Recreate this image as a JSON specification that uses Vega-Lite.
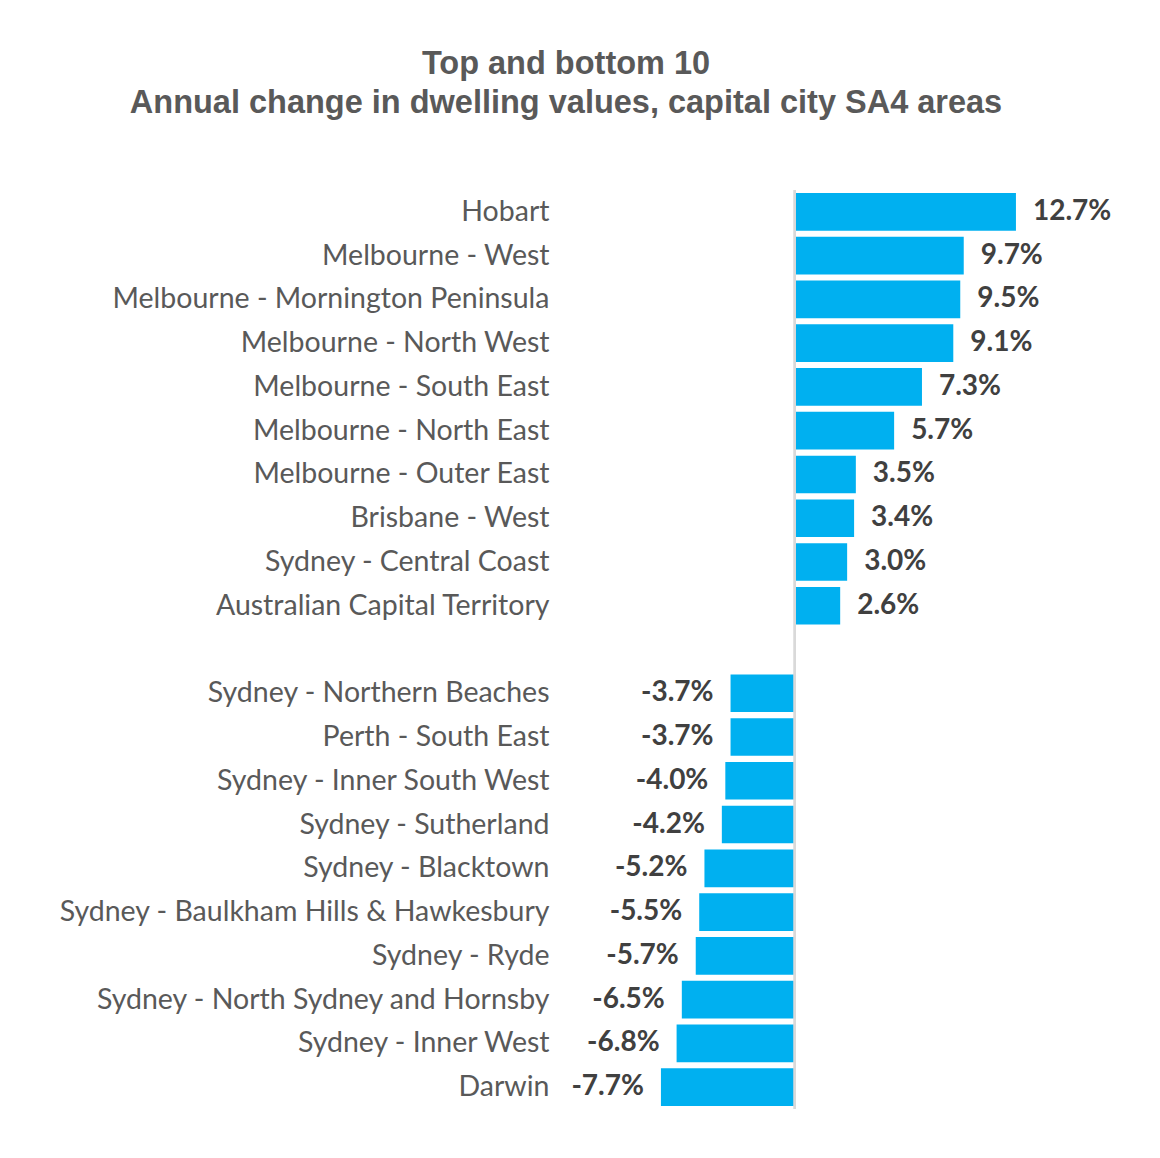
{
  "$schema": "https://vega.github.io/schema/vega-lite/v6.json",
  "autosize": "none",
  "width": 540,
  "height": 919,
  "padding": {"left": 560, "top": 190, "right": 60, "bottom": 49},
  "background": "white",
  "title": {
    "text": ["Top and bottom 10", "Annual change in dwelling values, capital city SA4 areas"],
    "anchor": "middle",
    "dx": -264,
    "offset": 70,
    "font": "Liberation Sans",
    "fontSize": 32.5,
    "fontWeight": "bold",
    "color": "#595959",
    "lineHeight": 39
  },
  "data": {
    "values": [
      {"area": "Hobart", "change": 0.127},
      {"area": "Melbourne - West", "change": 0.097},
      {"area": "Melbourne - Mornington Peninsula", "change": 0.095},
      {"area": "Melbourne - North West", "change": 0.091},
      {"area": "Melbourne - South East", "change": 0.073},
      {"area": "Melbourne - North East", "change": 0.057},
      {"area": "Melbourne - Outer East", "change": 0.035},
      {"area": "Brisbane - West", "change": 0.034},
      {"area": "Sydney - Central Coast", "change": 0.030},
      {"area": "Australian Capital Territory", "change": 0.026},
      {"area": "Sydney - Northern Beaches", "change": -0.037},
      {"area": "Perth - South East", "change": -0.037},
      {"area": "Sydney - Inner South West", "change": -0.040},
      {"area": "Sydney - Sutherland", "change": -0.042},
      {"area": "Sydney - Blacktown", "change": -0.052},
      {"area": "Sydney - Baulkham Hills & Hawkesbury", "change": -0.055},
      {"area": "Sydney - Ryde", "change": -0.057},
      {"area": "Sydney - North Sydney and Hornsby", "change": -0.065},
      {"area": "Sydney - Inner West", "change": -0.068},
      {"area": "Darwin", "change": -0.077}
    ]
  },
  "encoding": {
    "y": {
      "field": "area",
      "type": "nominal",
      "title": null,
      "scale": {
        "domain": ["Hobart", "Melbourne - West", "Melbourne - Mornington Peninsula", "Melbourne - North West", "Melbourne - South East", "Melbourne - North East", "Melbourne - Outer East", "Brisbane - West", "Sydney - Central Coast", "Australian Capital Territory", " ", "Sydney - Northern Beaches", "Perth - South East", "Sydney - Inner South West", "Sydney - Sutherland", "Sydney - Blacktown", "Sydney - Baulkham Hills & Hawkesbury", "Sydney - Ryde", "Sydney - North Sydney and Hornsby", "Sydney - Inner West", "Darwin"],
        "paddingInner": 0.14,
        "paddingOuter": 0.07
      },
      "axis": {
        "domain": false,
        "ticks": false,
        "labelPadding": 11,
        "labelFont": "Lato",
        "labelFontSize": 28.5,
        "labelColor": "#595959",
        "labelLimit": 600
      }
    }
  },
  "layer": [
    {
      "mark": {"type": "bar", "color": "#00B0F0"},
      "encoding": {
        "x": {
          "field": "change",
          "type": "quantitative",
          "scale": {"domain": [-0.135, 0.1753], "nice": false, "zero": false},
          "axis": null
        }
      }
    },
    {
      "mark": {"type": "rule", "color": "#d9d9d9", "strokeWidth": 2},
      "encoding": {"x": {"datum": 0, "type": "quantitative"}, "y": null}
    },
    {
      "transform": [{"filter": "datum.change > 0"}],
      "mark": {"type": "text", "align": "left", "dx": 17, "font": "Lato", "fontSize": 28, "fontWeight": "bold", "color": "#404040"},
      "encoding": {
        "x": {"field": "change", "type": "quantitative"},
        "text": {"field": "change", "type": "quantitative", "format": ".1%"}
      }
    },
    {
      "transform": [{"filter": "datum.change < 0"}],
      "mark": {"type": "text", "align": "right", "dx": -17, "font": "Lato", "fontSize": 28, "fontWeight": "bold", "color": "#404040"},
      "encoding": {
        "x": {"field": "change", "type": "quantitative"},
        "text": {"field": "change", "type": "quantitative", "format": ".1%"}
      }
    }
  ],
  "config": {
    "view": {"stroke": null},
    "locale": {"number": {"decimal": ".", "thousands": ",", "grouping": [3], "currency": ["$", ""], "minus": "-"}}
  }
}
